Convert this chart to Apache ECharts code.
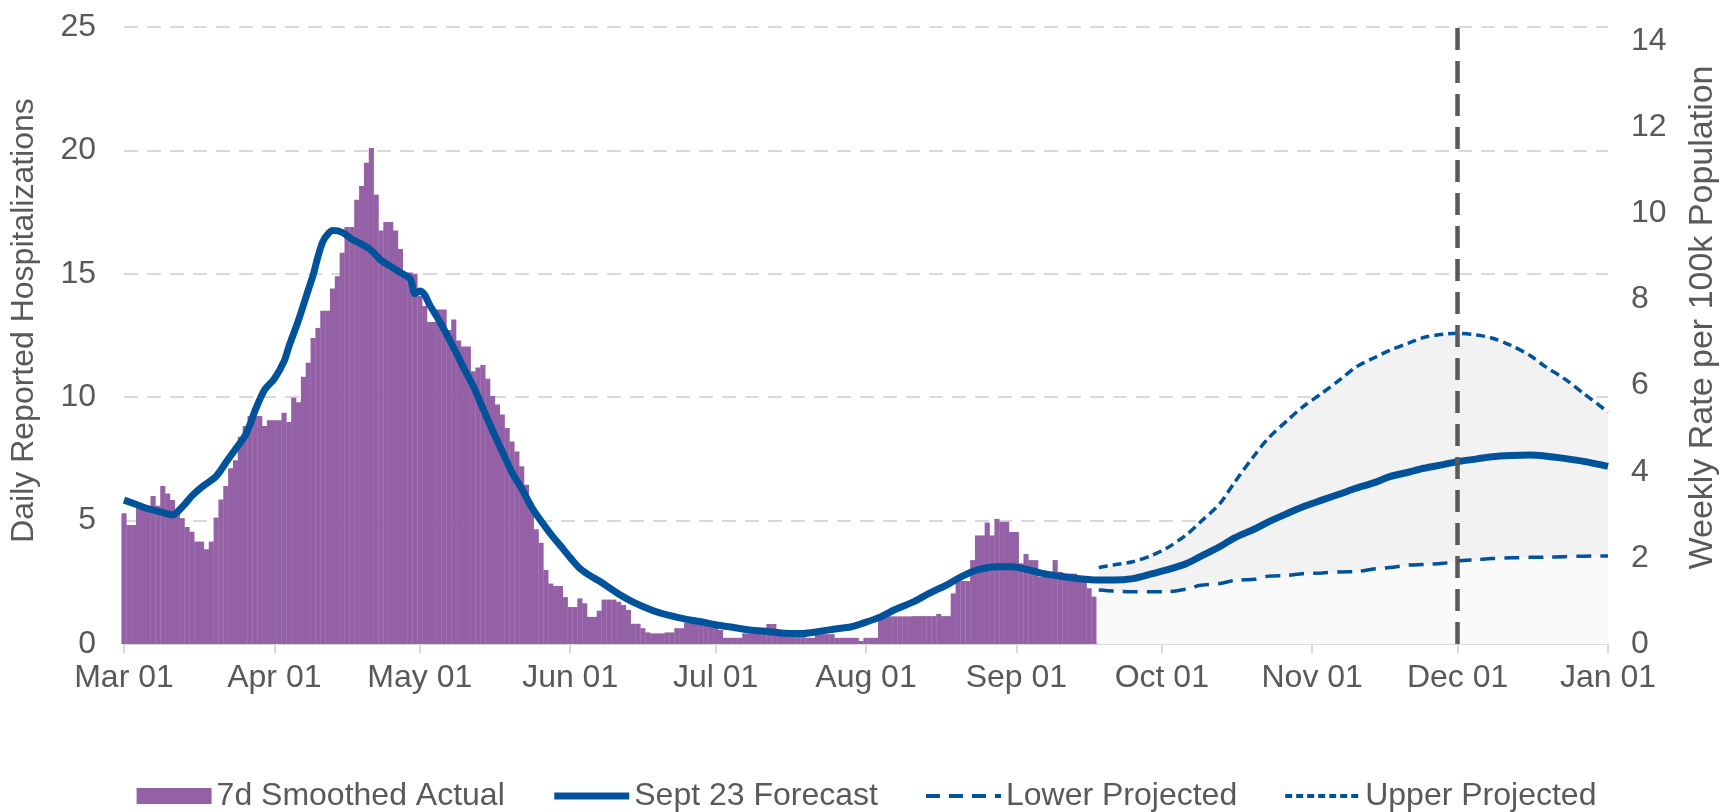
<!DOCTYPE html>
<html>
<head>
<meta charset="utf-8">
<script src="https://cdn.jsdelivr.net/npm/echarts@6/dist/echarts.min.js"></script>
<style>
html,body{margin:0;padding:0;background:#fff;}
#chart{width:1733px;height:812px;}
</style>
</head>
<body>
<div id="chart"></div>
<script>
// x positions are days counted from Mar 01
const monthTickDays = [0, 31, 61, 92, 122, 153, 184, 214, 245, 275, 306];
const monthLabels = ['Mar 01','Apr 01','May 01','Jun 01','Jul 01','Aug 01','Sep 01','Oct 01','Nov 01','Dec 01','Jan 01'];
const leftTicks = [0, 5, 10, 15, 20, 25];
const rightTicks = [0, 2, 4, 6, 8, 10, 12, 14];
const forecastCutDay = 275; // Dec 01

// 7d smoothed actual, one value per day from Mar 01
const actualValues = [
  5.3, 4.82, 4.82, 5.56, 5.56, 5.56, 6.0, 5.6, 6.4, 6.1,
  5.83, 5.3, 5.1, 4.74, 4.55, 4.15, 4.15, 3.84, 4.15, 5.12,
  5.86, 6.4, 7.12, 7.45, 8.4, 8.83, 9.24, 9.24, 9.24, 8.83,
  9.07, 9.07, 9.07, 9.37, 9.0, 9.98, 9.8, 10.83, 11.4, 12.4,
  12.8, 13.5, 13.5, 14.4, 14.9, 15.85, 16.9, 16.9, 18.0, 18.56,
  19.5, 20.1, 18.2, 16.75, 17.1, 17.1, 16.75, 16.0, 14.9, 15.05,
  15.0, 14.1, 13.7, 13.05, 13.05, 13.55, 13.55, 12.72, 13.15, 12.3,
  12.05, 12.05, 11.05, 11.2, 11.3, 10.75, 10.05, 9.7, 9.3, 8.75,
  8.2, 7.8, 7.2, 6.45, 5.7, 4.65, 4.1, 3.0, 2.45, 2.35,
  2.35, 1.9, 1.5, 1.5, 1.85, 1.65, 1.1, 1.1, 1.35, 1.8,
  1.8, 1.8, 1.71, 1.58, 1.38, 0.82, 0.82, 0.64, 0.47, 0.43,
  0.43, 0.43, 0.47, 0.47, 0.64, 0.64, 0.86, 0.86, 0.86, 0.86,
  0.86, 0.86, 0.86, 0.57, 0.25, 0.25, 0.25, 0.25, 0.43, 0.43,
  0.43, 0.43, 0.43, 0.81, 0.81, 0.5, 0.5, 0.5, 0.5, 0.5,
  0.5, 0.25, 0.25, 0.4, 0.4, 0.4, 0.4, 0.25, 0.25, 0.25,
  0.25, 0.25, 0.12, 0.25, 0.25, 0.25, 1.12, 1.12, 1.12, 1.12,
  1.12, 1.12, 1.12, 1.13, 1.13, 1.13, 1.13, 1.13, 1.22, 1.13,
  1.13, 2.05, 2.55, 2.55, 2.55, 3.4, 4.4, 4.4, 4.92, 4.4,
  5.07, 4.95, 4.95, 4.54, 4.54, 3.27, 3.65, 3.4, 3.4, 2.73,
  2.73, 2.8, 3.4, 2.92, 2.85, 2.85, 2.85, 2.55, 2.55, 2.26,
  1.92
];

// Sept 23 forecast line
const forecastDays = [
  0, 3, 5, 8, 10, 12, 14, 16, 19, 21, 23, 25, 26, 27, 29, 31, 33, 34, 36, 38,
  39, 40, 41, 42, 43, 45, 47, 49, 51, 53, 55, 57, 59, 60, 61, 62, 63, 65, 68, 70,
  72, 74, 76, 78, 80, 82, 84, 86, 88, 90, 92, 94, 96, 98, 102, 105, 109, 112, 116, 119,
  122, 126, 129, 133, 136, 140, 143, 146, 150, 152, 156, 159, 163, 166, 170, 173, 176, 180, 183, 187,
  190, 194, 197, 201, 204, 208, 212, 215, 219, 222, 226, 229, 233, 236, 240, 243, 247, 251, 254, 258,
  261, 265, 268, 272, 275, 279, 282, 286, 290, 293, 297, 301, 306
];
const forecastValues = [
  5.83, 5.62, 5.48, 5.33, 5.23, 5.55, 6.0, 6.35, 6.8, 7.35, 7.9, 8.45, 8.9, 9.45, 10.3, 10.75, 11.45, 12.05, 13.13, 14.35,
  14.95, 15.7, 16.3, 16.6, 16.75, 16.68, 16.4, 16.2, 15.95, 15.55, 15.3, 15.05, 14.8, 14.2, 14.3, 14.15, 13.75, 13.1, 12.0, 11.2,
  10.45, 9.55, 8.65, 7.8, 6.95, 6.3, 5.56, 4.98, 4.45, 3.98, 3.5, 3.06, 2.78, 2.55, 2.03, 1.7, 1.36, 1.18, 1.0, 0.9,
  0.78, 0.66, 0.57, 0.5, 0.44, 0.43, 0.5, 0.59, 0.7, 0.82, 1.1, 1.4, 1.73, 2.05, 2.43, 2.76, 3.0, 3.13, 3.13, 2.98,
  2.84, 2.72, 2.64, 2.59, 2.59, 2.65, 2.85, 3.0, 3.25, 3.55, 3.95, 4.3, 4.65, 4.95, 5.3, 5.55, 5.83, 6.1, 6.31, 6.55,
  6.78, 6.97, 7.12, 7.27, 7.39, 7.5, 7.59, 7.64, 7.66, 7.62, 7.52, 7.4, 7.2
];

// projection bounds
const projDays = [201, 204, 208, 212, 215, 219, 222, 226, 229, 233, 236, 240, 243, 247, 251, 254, 258, 261, 265, 268, 272, 275, 279, 282, 286, 290, 293, 297, 301, 306];
const lowerValues = [2.19, 2.15, 2.12, 2.12, 2.12, 2.22, 2.38, 2.45, 2.58, 2.62, 2.75, 2.78, 2.85, 2.88, 2.92, 2.93, 3.05, 3.1, 3.2, 3.22, 3.27, 3.37, 3.42, 3.46, 3.49, 3.51, 3.52, 3.54, 3.56, 3.57];
const upperValues = [3.1, 3.2, 3.33, 3.6, 3.88, 4.42, 4.95, 5.7, 6.55, 7.62, 8.35, 9.08, 9.6, 10.16, 10.75, 11.22, 11.62, 11.9, 12.2, 12.42, 12.55, 12.59, 12.52, 12.4, 12.1, 11.68, 11.25, 10.75, 10.15, 9.4];

const TXT = '#595959';
const FONT = 'Liberation Sans, Arial, sans-serif';
const FS = 32;
const BLUE = '#00529b';

const pairs = (xs, ys) => xs.map((x, i) => [x, ys[i]]);
const actualData = actualValues.map((v, i) => [i, v]);

const chart = echarts.init(document.getElementById('chart'), null, {renderer: 'canvas'});
chart.setOption({
  animation: false,
  backgroundColor: '#ffffff',
  textStyle: {fontFamily: FONT, color: TXT},
  grid: {left: 122, right: 125, top: 27, bottom: 168, containLabel: false},
  legend: {
    top: 775,
    left: 'center',
    itemWidth: 75,
    itemHeight: 16,
    itemGap: 46,
    itemStyle: {opacity: 0},
    textStyle: {fontSize: FS, color: TXT, fontFamily: FONT},
    data: [
      {name: '7d Smoothed Actual', icon: 'rect', itemStyle: {opacity: 1, color: '#9561a6'}},
      {name: 'Sept 23 Forecast', lineStyle: {width: 7, color: BLUE}},
      {name: 'Lower Projected', lineStyle: {width: 4, color: BLUE, type: [14, 9]}},
      {name: 'Upper Projected', lineStyle: {width: 4, color: BLUE, type: [7, 4]}}
    ]
  },
  xAxis: {
    type: 'value',
    min: monthTickDays[0],
    max: monthTickDays[monthTickDays.length - 1],
    axisLine: {show: true, lineStyle: {color: '#d9d9d9', width: 2}},
    axisTick: {show: true, length: 9, customValues: monthTickDays, lineStyle: {color: '#d9d9d9', width: 2}},
    axisLabel: {
      customValues: monthTickDays,
      fontSize: FS, color: TXT, fontFamily: FONT, margin: 18,
      formatter: v => monthLabels[monthTickDays.indexOf(v)] || ''
    },
    splitLine: {show: false}
  },
  yAxis: [
    {
      type: 'value',
      min: leftTicks[0],
      max: leftTicks[leftTicks.length - 1],
      interval: 5,
      name: 'Daily Reported Hospitalizations',
      nameLocation: 'middle',
      nameGap: 84,
      nameRotate: 90,
      nameTextStyle: {fontSize: FS, color: TXT, fontFamily: FONT, padding: [0, 0, 0, 30]},
      axisLine: {show: false},
      axisTick: {show: false},
      axisLabel: {fontSize: FS, color: TXT, fontFamily: FONT, margin: 28},
      splitLine: {show: true, showMinLine: false, lineStyle: {color: '#d9d9d9', width: 2, type: [14, 9]}}
    },
    {
      type: 'value',
      position: 'right',
      min: rightTicks[0],
      max: 14.33,
      interval: 2,
      name: 'Weekly Rate per 100k Population',
      nameLocation: 'middle',
      nameGap: 78,
      nameRotate: 90,
      nameTextStyle: {fontSize: 34, color: TXT, fontFamily: FONT, padding: [0, 0, 0, 36]},
      axisLine: {show: false},
      axisTick: {show: false},
      axisLabel: {fontSize: FS, color: TXT, fontFamily: FONT, margin: 23, showMaxLabel: false,
        formatter: v => (rightTicks.indexOf(v) >= 0 ? String(v) : '')},
      splitLine: {show: false}
    }
  ],
  series: [
    {
      name: 'upperArea',
      type: 'line',
      data: pairs(projDays, upperValues),
      symbol: 'none',
      smooth: 0.3,
      lineStyle: {width: 0, opacity: 0},
      areaStyle: {color: '#f2f2f2', opacity: 1},
      silent: true,
      z: 1
    },
    {
      name: 'lowerArea',
      type: 'line',
      data: pairs(projDays, lowerValues),
      symbol: 'none',
      smooth: 0.3,
      lineStyle: {width: 0, opacity: 0},
      areaStyle: {color: '#fafafa', opacity: 1},
      silent: true,
      z: 1
    },
    {
      name: '7d Smoothed Actual',
      type: 'bar',
      data: actualData,
      barWidth: '106%',
      itemStyle: {color: '#9561a6'},
      z: 2
    },
    {
      name: 'Lower Projected',
      type: 'line',
      data: pairs(projDays, lowerValues),
      symbol: 'none',
      smooth: 0.3,
      lineStyle: {color: BLUE, width: 3.5, type: [15, 9]},
      itemStyle: {color: BLUE},
      z: 3
    },
    {
      name: 'Upper Projected',
      type: 'line',
      data: pairs(projDays, upperValues),
      symbol: 'none',
      smooth: 0.3,
      lineStyle: {color: BLUE, width: 3.5, type: [9, 5]},
      itemStyle: {color: BLUE},
      z: 3
    },
    {
      name: 'Sept 23 Forecast',
      type: 'line',
      data: pairs(forecastDays, forecastValues),
      symbol: 'none',
      smooth: 0.3,
      lineStyle: {color: BLUE, width: 7},
      itemStyle: {color: BLUE},
      z: 4,
      markLine: {
        silent: true,
        symbol: 'none',
        label: {show: false},
        z: 10,
        lineStyle: {color: '#595959', width: 4.5, type: [22, 11]},
        data: [{xAxis: forecastCutDay}]
      }
    }
  ]
});
</script>
</body>
</html>
